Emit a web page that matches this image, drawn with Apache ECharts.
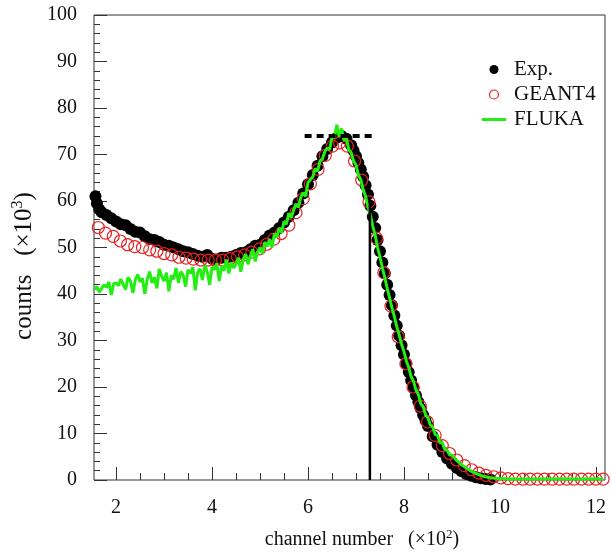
<!DOCTYPE html>
<html>
<head>
<meta charset="utf-8">
<script src="https://cdn.jsdelivr.net/npm/echarts@6/dist/echarts.min.js"></script>
<style>
  html, body { margin: 0; padding: 0; background: #fff; }
  #chart { width: 611px; height: 553px; }
</style>
</head>
<body>
<div id="chart"></div>
<script>
// channel in units of 100, counts in units of 1000
const expX = [
  1.57, 1.60, 1.65, 1.70, 1.80, 1.90, 2.00, 2.10, 2.20, 2.30,
  2.40, 2.50, 2.60, 2.70, 2.80, 2.90, 3.00, 3.10, 3.20, 3.30,
  3.40, 3.50, 3.60, 3.70, 3.80, 3.90, 4.00, 4.10, 4.20, 4.30,
  4.40, 4.50, 4.60, 4.70, 4.80, 4.90, 5.00, 5.10, 5.20, 5.30,
  5.40, 5.50, 5.60, 5.70, 5.80, 5.90, 6.00, 6.10, 6.20, 6.30,
  6.40, 6.50, 6.60, 6.70, 6.80, 6.90, 6.95, 7.00, 7.05, 7.10,
  7.15, 7.20, 7.25, 7.30, 7.35, 7.40, 7.45, 7.50, 7.55, 7.60,
  7.65, 7.70, 7.75, 7.80, 7.85, 7.90, 7.95, 8.00, 8.05, 8.10,
  8.15, 8.20, 8.25, 8.30, 8.35, 8.40, 8.45, 8.50, 8.60, 8.70,
  8.80, 8.90, 9.00, 9.10, 9.20, 9.30, 9.40, 9.50, 9.60, 9.70,
  9.80
]
const expY = [
  61.0, 59.5, 58.2, 57.6, 57.0, 56.3, 55.6, 55.0, 54.8, 54.0,
  53.4, 53.2, 52.4, 51.8, 51.6, 51.2, 50.6, 50.4, 50.0, 49.6,
  49.2, 49.0, 48.6, 48.2, 48.0, 48.4, 47.6, 47.4, 47.8, 47.8,
  48.0, 48.4, 48.8, 49.0, 49.6, 50.4, 50.6, 51.6, 52.6, 53.2,
  54.2, 55.4, 56.6, 58.0, 59.6, 61.6, 63.6, 65.6, 67.6, 69.6,
  71.2, 72.6, 73.6, 74.0, 73.4, 72.0, 70.8, 69.6, 68.2, 66.8,
  65.2, 63.4, 61.4, 59.0, 56.6, 54.2, 51.6, 49.2, 46.8, 44.4,
  42.0, 39.8, 37.6, 35.4, 33.2, 31.0, 29.0, 27.0, 25.0, 23.2,
  21.4, 19.8, 18.2, 16.8, 15.4, 14.0, 12.8, 11.6, 9.4, 7.6,
  6.0, 4.6, 3.5, 2.6, 1.9, 1.3, 0.9, 0.6, 0.4, 0.2,
  0.1
]

const geantX = [
  1.63, 1.78, 1.94, 2.09, 2.24, 2.39, 2.55, 2.70, 2.85, 3.00,
  3.16, 3.31, 3.46, 3.61, 3.77, 3.92, 4.07, 4.22, 4.38, 4.53,
  4.68, 4.83, 4.99, 5.14, 5.29, 5.44, 5.60, 5.75, 5.90, 6.05,
  6.21, 6.36, 6.51, 6.66, 6.82, 6.97, 7.12, 7.27, 7.43, 7.58,
  7.73, 7.88, 8.04, 8.19, 8.34, 8.49, 8.65, 8.80, 8.95, 9.10,
  9.26, 9.41, 9.56, 9.71, 9.87, 10.02, 10.17, 10.32, 10.48, 10.63,
  10.78, 10.93, 11.09, 11.24, 11.39, 11.54, 11.70, 11.85, 12.00, 12.15
]
const geantY = [
  54.3, 53.1, 52.4, 51.4, 50.6, 50.2, 50.0, 49.5, 49.2, 48.7,
  48.4, 47.9, 47.7, 47.5, 47.3, 47.3, 47.3, 47.3, 47.6, 48.0,
  48.4, 49.0, 49.7, 50.7, 51.8, 53.0, 54.8, 57.5, 60.5, 63.7,
  66.8, 69.8, 71.8, 72.5, 71.8, 68.6, 64.5, 59.8, 52.0, 44.6,
  37.4, 30.8, 25.0, 20.0, 15.9, 12.5, 9.6, 7.4, 5.7, 4.3,
  3.1, 2.2, 1.5, 1.0, 0.7, 0.45, 0.3, 0.2, 0.2, 0.2,
  0.2, 0.2, 0.2, 0.2, 0.2, 0.2, 0.2, 0.2, 0.2, 0.2
]

const flukaX = [
  1.55, 1.60, 1.65, 1.70, 1.75, 1.80, 1.85, 1.90, 1.95, 2.00,
  2.05, 2.10, 2.15, 2.20, 2.25, 2.30, 2.35, 2.40, 2.45, 2.50,
  2.55, 2.60, 2.65, 2.70, 2.75, 2.80, 2.85, 2.90, 2.95, 3.00,
  3.05, 3.10, 3.15, 3.20, 3.25, 3.30, 3.35, 3.40, 3.45, 3.50,
  3.55, 3.60, 3.65, 3.70, 3.75, 3.80, 3.85, 3.90, 3.95, 4.00,
  4.05, 4.10, 4.15, 4.20, 4.25, 4.30, 4.35, 4.40, 4.45, 4.50,
  4.55, 4.60, 4.65, 4.70, 4.75, 4.80, 4.85, 4.90, 4.95, 5.00,
  5.05, 5.10, 5.15, 5.20, 5.25, 5.30, 5.35, 5.40, 5.45, 5.50,
  5.55, 5.60, 5.65, 5.70, 5.75, 5.80, 5.85, 5.90, 5.95, 6.00,
  6.05, 6.10, 6.15, 6.20, 6.25, 6.30, 6.35, 6.40, 6.45, 6.50,
  6.55, 6.60, 6.65, 6.70, 6.75, 6.80, 6.85, 6.90, 6.95, 7.00,
  7.05, 7.10, 7.15, 7.20, 7.25, 7.30, 7.35, 7.40, 7.45, 7.50,
  7.55, 7.60, 7.65, 7.70, 7.75, 7.80, 7.85, 7.90, 7.95, 8.00,
  8.05, 8.10, 8.15, 8.20, 8.25, 8.30, 8.35, 8.40, 8.45, 8.50,
  8.55, 8.60, 8.65, 8.70, 8.75, 8.80, 8.85, 8.90, 8.95, 9.00,
  9.10, 9.20, 9.30, 9.40, 9.50, 9.60, 9.70, 9.80, 9.90, 10.00,
  10.20, 10.40, 10.60, 10.80, 11.00, 11.20, 11.40, 11.60, 11.80, 12.00,
  12.15
]
const flukaY = [
  41.0, 41.6, 40.4, 41.2, 42.0, 41.4, 42.6, 39.8, 42.2, 42.4,
  41.8, 43.2, 42.0, 41.0, 43.6, 42.8, 40.2, 43.0, 44.2, 42.6,
  43.4, 40.0, 43.2, 44.8, 42.4, 43.6, 41.2, 45.4, 43.8, 42.8,
  44.6, 40.6, 44.0, 43.2, 45.6, 42.4, 44.8, 44.0, 41.6, 45.2,
  44.4, 45.8, 40.8, 44.6, 45.4, 43.0, 46.2, 44.8, 42.0, 45.8,
  45.2, 46.6, 42.8, 46.0, 45.0, 47.4, 44.4, 46.8, 45.6, 46.4,
  47.8, 44.8, 47.4, 48.6, 46.4, 48.2, 49.6, 47.0, 49.0, 50.0,
  48.6, 51.2, 50.2, 51.8, 50.0, 53.0, 52.2, 54.2, 53.2, 55.6,
  55.0, 57.4, 56.4, 58.0, 59.4, 58.6, 60.8, 61.8, 61.0, 64.0,
  64.6, 65.2, 67.0, 66.4, 68.6, 69.0, 70.6, 71.4, 71.0, 73.8,
  73.6, 76.4, 73.8, 75.6, 73.0, 73.6, 71.0, 70.4, 68.6, 67.8,
  65.6, 64.6, 62.4, 61.0, 58.8, 57.0, 54.6, 52.6, 50.0, 48.0,
  45.6, 43.6, 41.2, 39.2, 37.0, 35.2, 33.0, 31.2, 29.2, 27.6,
  25.6, 24.2, 22.2, 21.2, 19.4, 18.4, 16.4, 15.8, 14.0, 13.4,
  11.8, 11.4, 9.8, 9.6, 8.0, 8.0, 6.6, 6.4, 5.4, 5.4,
  4.2, 3.3, 2.6, 1.9, 1.4, 1.0, 0.7, 0.5, 0.4, 0.3,
  0.2, 0.2, 0.2, 0.2, 0.2, 0.2, 0.2, 0.2, 0.2, 0.2,
  0.2
]

// dashed plateau marker and the vertical cut line
const plateauX = [5.93, 7.36]
const plateauY = 74
const cutX = 7.29
const cutY = [0, 60]

const xMajorTicks = [2, 4, 6, 8, 10, 12]
const xMinorTicks = [2.5, 3, 3.5, 4.5, 5, 5.5, 6.5, 7, 7.5, 8.5, 9, 9.5, 10.5, 11, 11.5]

const FONT = '"Liberation Serif", "Times New Roman", serif'
const GREEN = '#22ee11'
const RED = '#e52222'
const zip = (xs, ys) => xs.map((x, i) => [x, ys[i]])

const chart = echarts.init(document.getElementById('chart'))
chart.setOption({
  animation: false,
  grid: {
    left: 94, right: 6, top: 15, bottom: 73,
    show: true, borderColor: '#333', borderWidth: 1
  },
  // axis titles placed by hand
  graphic: [
    {
      type: 'text',
      x: 362,
      y: 540,
      style: {
        text: '{t|channel number   (×10}{s|2}{t|)}',
        align: 'center',
        verticalAlign: 'middle',
        rich: {
          t: { fontFamily: FONT, fontSize: 20, fill: '#111' },
          s: { fontFamily: FONT, fontSize: 13, fill: '#111', verticalAlign: 'top', padding: [0, 0, 10, 0] }
        }
      }
    },
    {
      type: 'text',
      x: 24,
      y: 266,
      rotation: Math.PI / 2,
      style: {
        text: '{t|counts   (×10}{s|3}{t|)}',
        align: 'center',
        verticalAlign: 'middle',
        rich: {
          t: { fontFamily: FONT, fontSize: 25, fill: '#111' },
          s: { fontFamily: FONT, fontSize: 16, fill: '#111', verticalAlign: 'top', padding: [0, 0, 12, 0] }
        }
      }
    }
  ],
  legend: {
    left: 474,
    top: 54,
    orient: 'vertical',
    itemGap: 4,
    itemWidth: 30,
    itemHeight: 9,
    textStyle: { fontFamily: FONT, fontSize: 21, color: '#111' },
    data: [
      { name: 'Exp.', icon: 'circle', itemStyle: { color: '#000' } },
      { name: 'GEANT4', icon: 'circle', itemStyle: { color: 'rgba(0,0,0,0)', borderColor: RED, borderWidth: 1.2 } },
      { name: 'FLUKA', icon: 'path://M0,0 M30,9 M3,3 L27,3 L27,6 L3,6 Z', itemStyle: { color: GREEN } }
    ]
  },
  xAxis: [
    {
      type: 'value',
      min: 1.54,
      max: 12.19,
      position: 'bottom',
      axisLine: { show: false },
      splitLine: { show: false },
      axisTick: { inside: true, length: 13, customValues: xMajorTicks, lineStyle: { color: '#333' } },
      axisLabel: {
        customValues: xMajorTicks,
        fontFamily: FONT, fontSize: 20, color: '#111', margin: 18
      }
    },
    {
      type: 'value',
      min: 1.54,
      max: 12.19,
      position: 'bottom',
      axisLine: { show: false },
      splitLine: { show: false },
      axisLabel: { show: false },
      axisTick: { inside: true, length: 7, customValues: xMinorTicks, lineStyle: { color: '#333' } }
    }
  ],
  yAxis: {
    type: 'value',
    min: 0,
    max: 100,
    interval: 10,
    axisLine: { show: false },
    splitLine: { show: false },
    axisTick: { inside: true, length: 13, lineStyle: { color: '#333' } },
    minorTick: { show: true, splitNumber: 5, length: 6, lineStyle: { color: '#333' } },
    axisLabel: { fontFamily: FONT, fontSize: 20, color: '#111', margin: 17 }
  },
  series: [
    {
      name: 'Exp.',
      type: 'scatter',
      symbol: 'circle',
      symbolSize: 12,
      itemStyle: { color: '#000', opacity: 1 },
      data: zip(expX, expY)
    },
    {
      name: 'FLUKA',
      type: 'line',
      symbol: 'none',
      lineStyle: { color: GREEN, width: 3 },
      itemStyle: { color: GREEN },
      data: zip(flukaX, flukaY)
    },
    {
      name: 'GEANT4',
      type: 'scatter',
      symbol: 'circle',
      symbolSize: 12,
      itemStyle: { color: 'rgba(0,0,0,0)', borderColor: RED, borderWidth: 1.2, opacity: 1 },
      data: zip(geantX, geantY)
    },
    {
      name: 'plateau',
      type: 'line',
      symbol: 'none',
      lineStyle: { color: '#000', width: 4, type: [7, 5] },
      data: plateauX.map(x => [x, plateauY])
    },
    {
      name: 'cut',
      type: 'line',
      symbol: 'none',
      lineStyle: { color: '#000', width: 2.5 },
      data: cutY.map(y => [cutX, y])
    }
  ]
})
</script>
</body>
</html>
